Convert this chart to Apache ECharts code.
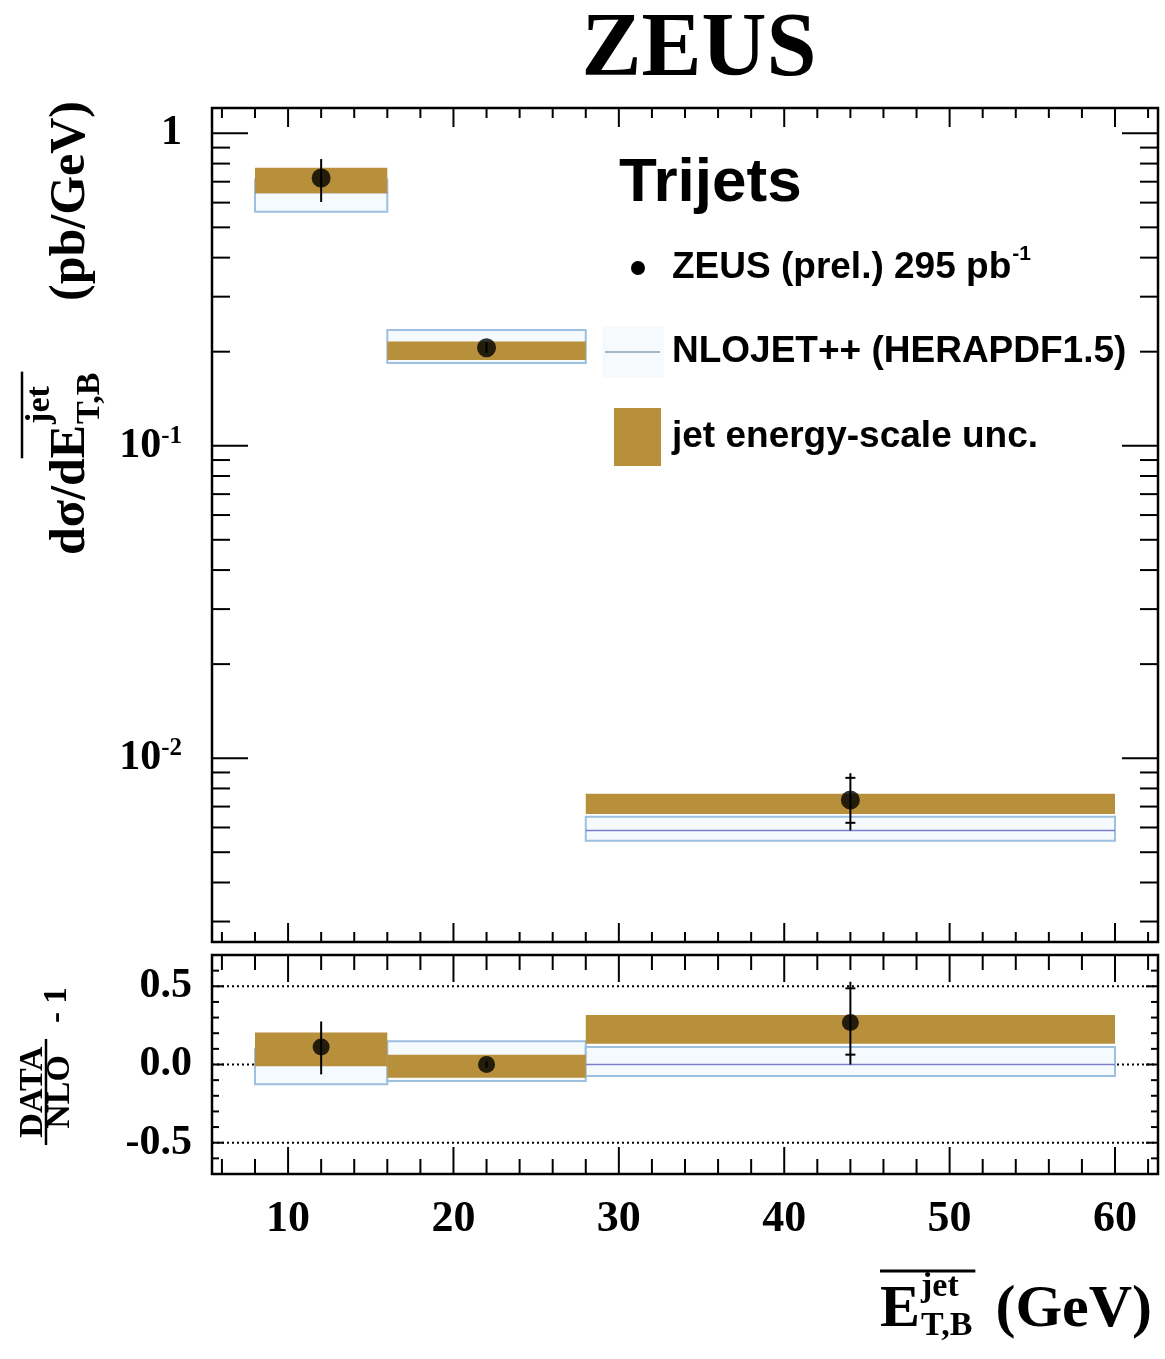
<!DOCTYPE html>
<html>
<head>
<meta charset="utf-8">
<script src="https://cdn.jsdelivr.net/npm/echarts@6/dist/echarts.min.js"></script>
<style>
  html, body { margin: 0; padding: 0; background: #fff; }
  #chart { width: 1165px; height: 1359px; }
</style>
</head>
<body>
<div id="chart"></div>
<script>
// bins in E_T,B (GeV)
const binLow = [8, 16, 28]
const binHigh = [16, 28, 60]
const binCentre = [12, 22, 44]

// upper panel: dsigma/dE (pb/GeV)
const xsecData = [0.719, 0.206, 0.00735]
const xsecErrUp = [0.827, 0.214, 0.00895]
const xsecErrDown = [0.603, 0.198, 0.00587]
const xsecStatUp = [null, null, 0.00865]
const xsecStatDown = [null, null, 0.00621]
const jesUp = [0.776, 0.2154, 0.00769]
const jesDown = [0.643, 0.1882, 0.00663]
const nloCentral = [0.647, 0.206, 0.00587]
const nloUp = [0.712, 0.2348, 0.00649]
const nloDown = [0.561, 0.184, 0.00544]

// lower panel: DATA/NLO - 1
const ratioData = [0.112, 0.0, 0.268]
const ratioErrUp = [0.275, 0.02, 0.529]
const ratioErrDown = [-0.063, -0.02, 0.0]
const ratioStatUp = [null, null, 0.487]
const ratioStatDown = [null, null, 0.063]
const ratioJesUp = [0.205, 0.063, 0.317]
const ratioJesDown = [-0.011, -0.084, 0.133]
const ratioNloUp = [0.1, 0.148, 0.112]
const ratioNloDown = [-0.127, -0.106, -0.074]
const ratioNloCentral = [0, 0, 0]
const ratioRefLines = [0.5, 0, -0.5]

// tick labels
const xTickLabels = [10, 20, 30, 40, 50, 60]
const ratioTickLabels = [-0.5, 0, 0.5]

const xMin = 5.4
const xMax = 62.6
const yMin = 0.00258
const yMax = 1.205

const serif = '"Liberation Serif", "Times New Roman", serif'
const sans = '"Liberation Sans", Arial, sans-serif'
const gold = '#b8903c'
const nloLine = '#9dbfe0'

const chart = echarts.init(document.getElementById('chart'))

const ctx = document.createElement('canvas').getContext('2d')
function measure(text, font) {
  ctx.font = font
  return ctx.measureText(text).width
}

function near(a, b) {
  return Math.abs(a - b) < 1e-6
}

function boxSeries(xi, yi, down, up, style, z) {
  return {
    type: 'custom', xAxisIndex: xi, yAxisIndex: yi, z: z, silent: true,
    data: binLow.map((l, i) => [l, binHigh[i], down[i], up[i]]),
    encode: { x: [0, 1], y: [2, 3] },
    renderItem: (params, api) => {
      const a = api.coord([api.value(0), api.value(3)])
      const b = api.coord([api.value(1), api.value(2)])
      return {
        type: 'rect',
        shape: { x: a[0], y: a[1], width: b[0] - a[0], height: b[1] - a[1] },
        style: Object.assign({}, style)
      }
    }
  }
}

function nloSeries(xi, yi, down, up, central) {
  return {
    type: 'custom', xAxisIndex: xi, yAxisIndex: yi, z: 2, silent: true,
    data: binLow.map((l, i) => [l, binHigh[i], down[i], up[i], central[i]]),
    encode: { x: [0, 1], y: [2, 3] },
    renderItem: (params, api) => {
      const a = api.coord([api.value(0), api.value(3)])
      const b = api.coord([api.value(1), api.value(2)])
      const c = api.coord([api.value(0), api.value(4)])
      return {
        type: 'group',
        children: [
          {
            type: 'rect',
            shape: { x: a[0], y: a[1], width: b[0] - a[0], height: b[1] - a[1] },
            style: { fill: '#f4fafe', stroke: nloLine, lineWidth: 2 }
          },
          {
            type: 'line',
            shape: { x1: a[0], y1: c[1], x2: b[0], y2: c[1] },
            style: { stroke: '#7b80cc', lineWidth: 1.5 }
          }
        ]
      }
    }
  }
}

function errorSeries(xi, yi, down, up, statDown, statUp) {
  return {
    type: 'custom', xAxisIndex: xi, yAxisIndex: yi, z: 4, silent: true,
    data: binCentre.map((x, i) => [x, down[i], up[i], statDown[i], statUp[i]]),
    encode: { x: 0, y: [1, 2] },
    renderItem: (params, api) => {
      const x = api.value(0)
      const t = api.coord([x, api.value(2)])
      const b = api.coord([x, api.value(1)])
      const st = { stroke: '#000', lineWidth: 2 }
      const children = [{ type: 'line', shape: { x1: t[0], y1: t[1], x2: b[0], y2: b[1] }, style: st }]
      const sd = api.value(3)
      const su = api.value(4)
      if (!isNaN(su) && su !== null) {
        const p1 = api.coord([x, su])
        const p2 = api.coord([x, sd])
        children.push({ type: 'line', shape: { x1: p1[0] - 5, y1: p1[1], x2: p1[0] + 5, y2: p1[1] }, style: st })
        children.push({ type: 'line', shape: { x1: p2[0] - 5, y1: p2[1], x2: p2[0] + 5, y2: p2[1] }, style: st })
      }
      return { type: 'group', children: children }
    }
  }
}

function tickSeries(xi, yi, ticks, xRef, yRef) {
  return {
    type: 'custom', xAxisIndex: xi, yAxisIndex: yi, z: 10, silent: true,
    data: ticks,
    renderItem: (params, api) => {
      const cs = params.coordSys
      const v = api.value(0)
      const len = api.value(1)
      const st = { stroke: '#000', lineWidth: 2 }
      if (api.value(2) === 0) {
        const x = api.coord([v, yRef])[0]
        return {
          type: 'group',
          children: [
            { type: 'line', shape: { x1: x, y1: cs.y, x2: x, y2: cs.y + len }, style: st },
            { type: 'line', shape: { x1: x, y1: cs.y + cs.height, x2: x, y2: cs.y + cs.height - len }, style: st }
          ]
        }
      }
      const y = api.coord([xRef, v])[1]
      return {
        type: 'group',
        children: [
          { type: 'line', shape: { x1: cs.x, y1: y, x2: cs.x + len, y2: y }, style: st },
          { type: 'line', shape: { x1: cs.x + cs.width, y1: y, x2: cs.x + cs.width - len, y2: y }, style: st }
        ]
      }
    }
  }
}

// axis tick marks (ROOT style, on all four sides)
const topTicks = []
const bottomTicks = []
for (let k = 3; k <= 31; k++) {
  const v = 2 * k
  topTicks.push([v, v % 10 === 0 ? 19 : 10, 0])
  bottomTicks.push([v, v % 10 === 0 ? 27 : 15, 0])
}
for (let e = -3; e <= 0; e++) {
  for (let m = 1; m <= 9; m++) {
    const v = m * Math.pow(10, e)
    if (v > yMin && v < yMax) topTicks.push([v, m === 1 ? 36 : 18, 1])
  }
}
for (let k = -6; k <= 6; k++) {
  bottomTicks.push([k / 10, k % 5 === 0 ? 12 : 7, 1])
}

const labelFont = { fontFamily: serif, fontWeight: 'bold', color: '#000' }

// y title pieces (rotated)
const fY = 'bold 50px ' + serif
const fYs = 'bold 34px ' + serif
const wD = measure('dσ/d', fY)
const wE = measure('E', fY)
const wS = Math.max(measure('jet', fYs), measure('T,B', fYs))

// x title pieces
const fX = 'bold 60px ' + serif
const fXs = 'bold 34px ' + serif
const wXE = measure('E', fX)
const wXS = Math.max(measure('jet', fXs), measure('T,B', fXs))

const fLeg = 'bold 37px ' + sans
const wZeus = measure('ZEUS (prel.) 295 pb', fLeg)

function txt(text, x, y, font, align, extra) {
  return Object.assign({
    type: 'text', x: x, y: y, silent: true,
    style: { text: text, font: font, fill: '#000', textAlign: align || 'left', textVerticalAlign: 'middle', align: align || 'left', verticalAlign: 'middle' }
  }, extra || {})
}

chart.setOption({
  animation: false,
  backgroundColor: '#fff',
  grid: [
    { left: 212, top: 108, width: 946, height: 834, show: true, borderColor: '#000', borderWidth: 2.5, backgroundColor: 'transparent' },
    { left: 212, top: 955, width: 946, height: 219, show: true, borderColor: '#000', borderWidth: 2.5, backgroundColor: 'transparent' }
  ],
  xAxis: [
    {
      gridIndex: 0, type: 'value', min: xMin, max: xMax, interval: 0.2,
      axisLine: { show: false }, axisTick: { show: false }, splitLine: { show: false }, axisLabel: { show: false }
    },
    {
      gridIndex: 1, type: 'value', min: xMin, max: xMax, interval: 0.2,
      axisLine: { show: false }, axisTick: { show: false }, splitLine: { show: false },
      axisLabel: Object.assign({
        interval: 0, margin: 24, fontSize: 44, hideOverlap: false,
        formatter: v => {
          const t = xTickLabels.find(l => near(l, v))
          return t === undefined ? '' : String(t)
        }
      }, labelFont)
    }
  ],
  yAxis: [
    {
      gridIndex: 0, type: 'log', logBase: 10, min: yMin, max: yMax,
      axisLine: { show: false }, axisTick: { show: false }, splitLine: { show: false },
      axisLabel: Object.assign({
        margin: 30, fontSize: 42,
        formatter: v => {
          const e = Math.log10(v)
          if (!near(e, Math.round(e))) return ''
          const n = Math.round(e)
          return n === 0 ? '{b|1}' : '{b|10}{s|' + n + '}'
        },
        rich: {
          b: Object.assign({ fontSize: 42, lineHeight: 44 }, labelFont),
          s: Object.assign({ fontSize: 25, verticalAlign: 'top', lineHeight: 44, padding: [0, 0, 14, 0] }, labelFont)
        }
      }, labelFont)
    },
    {
      gridIndex: 1, type: 'value', min: -0.7, max: 0.7, interval: 0.1,
      axisLine: { show: false }, axisTick: { show: false }, splitLine: { show: false },
      axisLabel: Object.assign({
        margin: 20, fontSize: 42,
        formatter: v => {
          const t = ratioTickLabels.find(l => near(l, v))
          return t === undefined ? '' : t.toFixed(1)
        }
      }, labelFont)
    }
  ],
  series: [
    nloSeries(0, 0, nloDown, nloUp, nloCentral),
    boxSeries(0, 0, jesDown, jesUp, { fill: gold }, 3),
    errorSeries(0, 0, xsecErrDown, xsecErrUp, xsecStatDown, xsecStatUp),
    {
      type: 'scatter', xAxisIndex: 0, yAxisIndex: 0, z: 5, silent: true,
      symbol: 'circle', symbolSize: 19, itemStyle: { color: '#000' },
      data: binCentre.map((x, i) => [x, xsecData[i]])
    },
    tickSeries(0, 0, topTicks, 30, 0.1),

    {
      type: 'custom', xAxisIndex: 1, yAxisIndex: 1, z: 1, silent: true,
      data: ratioRefLines.map(v => [xMin, v]),
      renderItem: (params, api) => {
        const cs = params.coordSys
        const y = api.coord([xMin, api.value(1)])[1]
        return {
          type: 'line',
          shape: { x1: cs.x, y1: y, x2: cs.x + cs.width, y2: y },
          style: { stroke: '#000', lineWidth: 2, lineDash: [2, 3] }
        }
      }
    },
    nloSeries(1, 1, ratioNloDown, ratioNloUp, ratioNloCentral),
    boxSeries(1, 1, ratioJesDown, ratioJesUp, { fill: gold }, 3),
    errorSeries(1, 1, ratioErrDown, ratioErrUp, ratioStatDown, ratioStatUp),
    {
      type: 'scatter', xAxisIndex: 1, yAxisIndex: 1, z: 5, silent: true,
      symbol: 'circle', symbolSize: 17, itemStyle: { color: '#000' },
      data: binCentre.map((x, i) => [x, ratioData[i]])
    },
    tickSeries(1, 1, bottomTicks, 30, 0)
  ],
  graphic: [
    txt('ZEUS', 699, 52, 'bold 90px ' + serif, 'center'),
    txt('Trijets', 619, 184, 'bold 62px ' + sans),

    { type: 'circle', silent: true, shape: { cx: 638, cy: 268, r: 7 }, style: { fill: '#000' } },
    txt('ZEUS (prel.) 295 pb', 672, 268, fLeg),
    txt('-1', 672 + wZeus + 1, 254, 'bold 21px ' + sans),
    { type: 'rect', silent: true, shape: { x: 602, y: 326, width: 62, height: 52 }, style: { fill: '#f6fafd' } },
    { type: 'line', silent: true, shape: { x1: 605, y1: 352, x2: 660, y2: 352 }, style: { stroke: '#a4b6cc', lineWidth: 2 } },
    txt('NLOJET++ (HERAPDF1.5)', 672, 352, fLeg),
    { type: 'rect', silent: true, shape: { x: 614, y: 408, width: 47, height: 58 }, style: { fill: gold } },
    txt('jet energy-scale unc.', 672, 437, fLeg),

    {
      type: 'group', x: 71, y: 555, rotation: Math.PI / 2,
      children: [
        txt('dσ/d', 0, 0, fY),
        txt('E', wD, 0, fY),
        txt('jet', wD + wE + 1, -31, fYs),
        txt('T,B', wD + wE + 1, 19, fYs),
        { type: 'line', silent: true, shape: { x1: wD, y1: -49, x2: wD + wE + wS + 2, y2: -49 }, style: { stroke: '#000', lineWidth: 2.5 } },
        txt('(pb/GeV)', 454, 0, fY, 'right')
      ]
    },
    {
      type: 'group', x: 46, y: 1145, rotation: Math.PI / 2,
      children: [
        { type: 'line', silent: true, shape: { x1: 0, y1: 0, x2: 106, y2: 0 }, style: { stroke: '#000', lineWidth: 2.5 } },
        txt('DATA', 53, -13, 'bold 34px ' + serif, 'center'),
        txt('NLO', 53, 14, 'bold 34px ' + serif, 'center'),
        txt('- 1', 122, 11, 'bold 33px ' + serif)
      ]
    },

    txt('E', 880, 1310, fX),
    txt('jet', 880 + wXE + 1, 1287, fXs),
    txt('T,B', 880 + wXE + 1, 1326, fXs),
    { type: 'line', silent: true, shape: { x1: 880, y1: 1271, x2: 880 + wXE + wXS + 4, y2: 1271 }, style: { stroke: '#000', lineWidth: 3 } },
    txt('(GeV)', 1152, 1310, fX, 'right')
  ]
})
</script>
</body>
</html>
